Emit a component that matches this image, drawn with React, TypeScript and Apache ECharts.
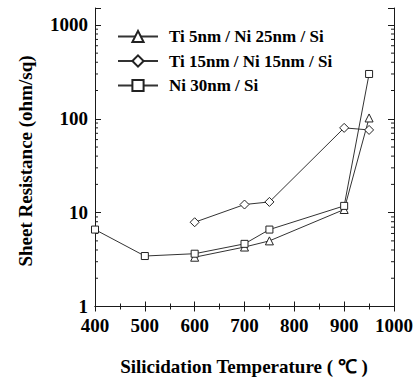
import React, { useEffect, useRef } from "react";
import * as echarts from "echarts";

const seriesNames = ["Ti 5nm / Ni 25nm / Si", "Ti 15nm / Ni 15nm / Si", "Ni 30nm / Si"];
const tempsTi5 = [600, 700, 750, 900, 950];
const rsTi5 = [3.35, 4.3, 5.0, 10.8, 102];
const tempsTi15 = [600, 700, 750, 900, 950];
const rsTi15 = [7.9, 12.2, 13.0, 80, 76];
const tempsNi = [400, 500, 600, 700, 750, 900, 950];
const rsNi = [6.6, 3.45, 3.65, 4.65, 6.6, 11.8, 300];
const xTicks = [400, 500, 600, 700, 800, 900, 1000];
const yTickLabels = ["1", "10", "100", "1000"];

const FONT = "'Liberation Serif', 'Times New Roman', serif";
const INK = "#1a1a1a";
const Y_MAX = 3.18;

function toPairs(xs: number[], ys: number[]) {
  return xs.map((x, i) => [x, Math.log10(ys[i])]);
}

export default function App() {
  const ref = useRef<HTMLDivElement>(null);
  useEffect(() => {
    if (!ref.current) return;
    const chart = echarts.init(ref.current, undefined, { renderer: "svg" });
    const minor: number[][] = [];
    for (let d = 0; d < 4; d++) {
      for (let k = 2; k <= 9; k++) {
        const v = d + Math.log10(k);
        if (v < Y_MAX) minor.push([400, v]);
      }
    }
    const lineStyle = { color: "#333", width: 1 };
    const itemStyle = { color: "#fff", borderColor: "#222", borderWidth: 1 };
    const axisCommon = {
      axisLine: { show: true, lineStyle: { color: INK, width: 1 } },
      splitLine: { show: false },
    };
    chart.setOption({
      animation: false,
      backgroundColor: "#fff",
      grid: { left: 95, right: 22, top: 8, bottom: 70.5 },
      legend: {
        data: seriesNames,
        orient: "vertical",
        left: 117,
        top: 28,
        padding: 0,
        itemWidth: 40,
        itemHeight: 14,
        itemGap: 7.5,
        textStyle: {
          fontFamily: FONT,
          fontWeight: "bold",
          fontSize: 17,
          color: "#000",
          padding: [0, 0, 0, 6],
        },
        selectedMode: false,
      },
      xAxis: [
        {
          type: "value",
          min: 400,
          max: 1000,
          interval: 100,
          position: "bottom",
          ...axisCommon,
          axisTick: { show: true, inside: true, length: 5, lineStyle: { color: INK } },
          minorTick: { show: true, splitNumber: 2, length: 3, lineStyle: { color: INK } },
          axisLabel: {
            margin: 9,
            fontFamily: FONT,
            fontWeight: "bold",
            fontSize: 19,
            color: "#000",
            formatter: (v: number) => (xTicks.includes(v) ? String(v) : ""),
          },
        },
        {
          type: "value",
          min: 400,
          max: 1000,
          interval: 100,
          position: "top",
          ...axisCommon,
          axisTick: { show: true, inside: true, length: 5, lineStyle: { color: INK } },
          minorTick: { show: true, splitNumber: 2, length: 3, lineStyle: { color: INK } },
          axisLabel: { show: false },
        },
      ],
      yAxis: [
        {
          type: "value",
          min: 0,
          max: Y_MAX,
          interval: 1,
          position: "left",
          ...axisCommon,
          axisTick: { show: true, inside: true, length: 6, lineStyle: { color: INK } },
          axisLabel: {
            margin: 7,
            fontFamily: FONT,
            fontWeight: "bold",
            fontSize: 19,
            color: "#000",
            formatter: (v: number) => {
              const r = Math.round(v);
              return Math.abs(v - r) < 1e-6 ? yTickLabels[r] ?? "" : "";
            },
          },
        },
        {
          type: "value",
          min: 0,
          max: Y_MAX,
          interval: 1,
          position: "right",
          ...axisCommon,
          axisTick: { show: true, inside: true, length: 6, lineStyle: { color: INK } },
          axisLabel: { show: false },
        },
      ],
      series: [
        {
          name: seriesNames[0],
          type: "line",
          data: toPairs(tempsTi5, rsTi5),
          symbol: "triangle",
          symbolSize: 8,
          lineStyle,
          itemStyle,
        },
        {
          name: seriesNames[1],
          type: "line",
          data: toPairs(tempsTi15, rsTi15),
          symbol: "diamond",
          symbolSize: 9,
          lineStyle,
          itemStyle,
        },
        {
          name: seriesNames[2],
          type: "line",
          data: toPairs(tempsNi, rsNi),
          symbol: "rect",
          symbolSize: 7,
          lineStyle,
          itemStyle,
        },
        {
          name: "minorTicks",
          type: "custom",
          silent: true,
          clip: false,
          data: minor,
          renderItem: (params: any, api: any) => {
            const v = api.value(1);
            const pL = api.coord([400, v]);
            const pR = api.coord([1000, v]);
            return {
              type: "group",
              children: [
                { type: "line", shape: { x1: pL[0], y1: pL[1], x2: pL[0] + 3, y2: pL[1] }, style: { stroke: INK, lineWidth: 1 } },
                { type: "line", shape: { x1: pR[0], y1: pR[1], x2: pR[0] - 3, y2: pR[1] }, style: { stroke: INK, lineWidth: 1 } },
              ],
            };
          },
        },
      ],
      graphic: [
        {
          type: "text",
          x: 25,
          y: 161,
          rotation: Math.PI / 2,
          style: {
            text: "Sheet Resistance (ohm/sq)",
            fontFamily: FONT,
            fontWeight: "bold",
            fontSize: 19,
            fill: "#000",
            align: "center",
            verticalAlign: "middle",
          },
        },
        {
          type: "text",
          x: 244,
          y: 366,
          style: {
            text: "Silicidation Temperature ( ℃ )",
            fontFamily: FONT,
            fontWeight: "bold",
            fontSize: 19,
            fill: "#000",
            align: "center",
            verticalAlign: "middle",
          },
        },
      ],
    });
    return () => chart.dispose();
  }, []);
  return <div ref={ref} style={{ width: 416, height: 377, position: "absolute", left: 0, top: 0 }} />;
}
